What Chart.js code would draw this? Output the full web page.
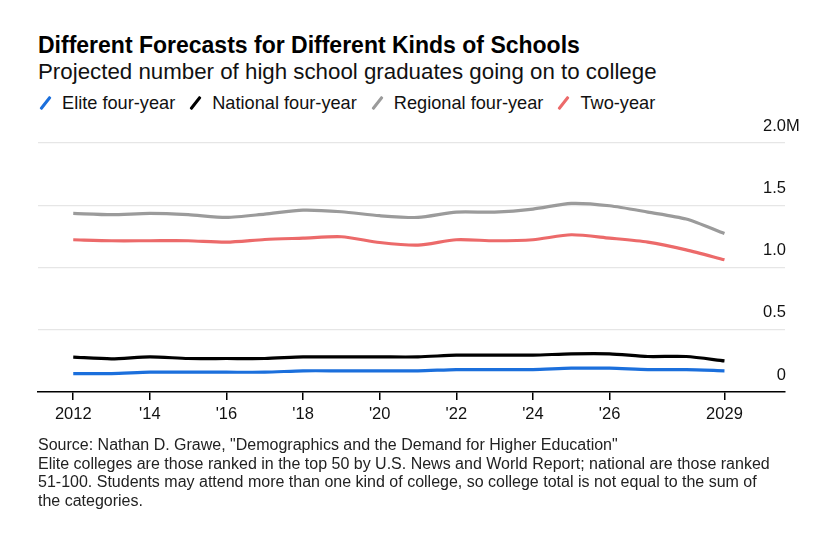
<!DOCTYPE html>
<html>
<head>
<meta charset="utf-8">
<script src="https://cdn.jsdelivr.net/npm/chart.js@4"></script>
<style>
  body { margin: 0; background: #fff; font-family: "Liberation Sans", Arial, sans-serif; color: #000; }
  #wrap { position: relative; width: 827px; height: 534px; overflow: hidden; }
  #title { position: absolute; left: 38px; top: 31px; font-size: 23px; font-weight: bold; line-height: 28px; white-space: nowrap; }
  #subtitle { position: absolute; left: 38px; top: 59px; font-size: 22.3px; line-height: 26px; white-space: nowrap; color: #111; }
  #legend { position: absolute; left: 40px; top: 92px; font-size: 18.2px; line-height: 22px; white-space: nowrap; display: flex; color: #111; }
  .item { display: flex; align-items: center; margin-right: 15px; }
  .mark { position: relative; display: inline-block; width: 12px; height: 18px; margin-right: 10px; }
  .mark i { position: absolute; left: 4px; top: 1px; width: 3px; height: 16px; border-radius: 1px; transform: rotate(38deg); }
  #chartBox { position: absolute; left: 0; top: 110px; width: 827px; height: 330px; }
  #footer { position: absolute; left: 38px; top: 436px; font-size: 16px; line-height: 18.6px; white-space: nowrap; color: #222; }
</style>
</head>
<body>
<div id="wrap">
  <div id="title">Different Forecasts for Different Kinds of Schools</div>
  <div id="subtitle">Projected number of high school graduates going on to college</div>
  <div id="legend"></div>
  <div id="chartBox"><canvas id="chart"></canvas></div>
  <div id="footer">Source: Nathan D. Grawe, "Demographics and the Demand for Higher Education"<br>Elite colleges are those ranked in the top 50 by U.S. News and World Report; national are those ranked<br>51-100. Students may attend more than one kind of college, so college total is not equal to the sum of<br>the categories.</div>
</div>
<script>
// data, millions of students
const years = [2012, 2013, 2014, 2015, 2016, 2017, 2018, 2019, 2020, 2021, 2022, 2023, 2024, 2025, 2026, 2027, 2028, 2029];
const elite = [0.148, 0.148, 0.159, 0.159, 0.159, 0.159, 0.170, 0.170, 0.170, 0.170, 0.180, 0.180, 0.180, 0.191, 0.191, 0.180, 0.180, 0.170];
const national = [0.280, 0.266, 0.282, 0.269, 0.269, 0.269, 0.282, 0.282, 0.282, 0.282, 0.296, 0.296, 0.296, 0.306, 0.306, 0.285, 0.285, 0.250];
const regional = [1.434, 1.424, 1.434, 1.424, 1.402, 1.429, 1.461, 1.448, 1.416, 1.402, 1.445, 1.445, 1.469, 1.515, 1.496, 1.445, 1.389, 1.273];
const twoYear = [1.223, 1.215, 1.215, 1.215, 1.204, 1.225, 1.236, 1.247, 1.201, 1.180, 1.223, 1.215, 1.223, 1.263, 1.236, 1.204, 1.142, 1.062];

const seriesNames = ['Elite four-year', 'National four-year', 'Regional four-year', 'Two-year'];
const seriesColors = ['#1b6fdc', '#000000', '#9b9b9b', '#ec6a6a'];

const xTickValues = [2012, 2014, 2016, 2018, 2020, 2022, 2024, 2026, 2029];
const xTickLabels = ['2012', "'14", "'16", "'18", "'20", "'22", "'24", "'26", '2029'];
const yTickValues = [0, 0.5, 1, 1.5, 2];
const yTickLabels = ['0', '0.5', '1.0', '1.5', '2.0M'];

const FONT = '"Liberation Sans", Arial, sans-serif';

// legend with slash markers
const legendEl = document.getElementById('legend');
seriesNames.forEach((name, i) => {
    const item = document.createElement('div');
    item.className = 'item';
    item.innerHTML = `<span class="mark"><i style="background:${seriesColors[i]}"></i></span><span>${name}</span>`;
    legendEl.appendChild(item);
});

function toPoints(values) {
    return values.map((v, i) => ({ x: years[i], y: v }));
}

// y labels sit above their gridline, unit hangs to the right
const yLabelPlugin = {
    id: 'yLabels',
    afterDraw(chart) {
        const ctx = chart.ctx;
        const y = chart.scales.y;
        const right = chart.chartArea.right + 1;
        ctx.save();
        ctx.font = '16.5px ' + FONT;
        ctx.fillStyle = '#111';
        ctx.textBaseline = 'middle';
        yTickValues.forEach((v, i) => {
            const label = yTickLabels[i];
            const num = label.replace(/[A-Z]+$/, '');
            const unit = label.slice(num.length);
            const py = y.getPixelForValue(v) - 17;
            ctx.textAlign = 'right';
            ctx.fillText(num, right, py);
            if (unit) {
                ctx.textAlign = 'left';
                ctx.fillText(unit, right, py);
            }
        });
        ctx.restore();
    }
};

const ctx = document.getElementById('chart').getContext('2d');
const chart = new Chart(ctx, {
    type: 'line',
    data: {
        datasets: [regional, twoYear, national, elite].map((vals, k) => {
            const idx = [2, 3, 1, 0][k];
            return {
                label: seriesNames[idx],
                data: toPoints(vals),
                borderColor: seriesColors[idx],
                borderWidth: 3.2,
                pointRadius: 0,
                tension: 0.25,
                fill: false
            };
        })
    },
    options: {
        responsive: true,
        maintainAspectRatio: false,
        animation: false,
        layout: { padding: { top: 33, left: 38, right: 42, bottom: 8 } },
        plugins: { legend: { display: false }, tooltip: { enabled: false } },
        scales: {
            x: {
                type: 'linear',
                min: 2011.08,
                max: 2030.58,
                afterBuildTicks: s => { s.ticks = xTickValues.map(v => ({ value: v })); },
                afterFit: s => { s.height = 40; },
                ticks: {
                    autoSkip: false,
                    maxRotation: 0,
                    padding: 5,
                    color: '#111',
                    font: { family: FONT, size: 16.5 },
                    callback: (value, index) => xTickLabels[index]
                },
                grid: { drawOnChartArea: false, drawTicks: true, tickLength: 8, color: '#000', lineWidth: 1.5 },
                border: { display: true, color: '#000', width: 1.5 }
            },
            y: {
                position: 'right',
                min: 0,
                max: 2,
                afterBuildTicks: s => { s.ticks = yTickValues.map(v => ({ value: v })); },
                ticks: { display: false },
                grid: {
                    drawTicks: false,
                    color: c => (c.tick && c.tick.value === 0 ? 'rgba(0,0,0,0)' : '#e6e6e6'),
                    lineWidth: 1.2
                },
                border: { display: false }
            }
        }
    },
    plugins: [yLabelPlugin]
});
</script>
</body>
</html>
